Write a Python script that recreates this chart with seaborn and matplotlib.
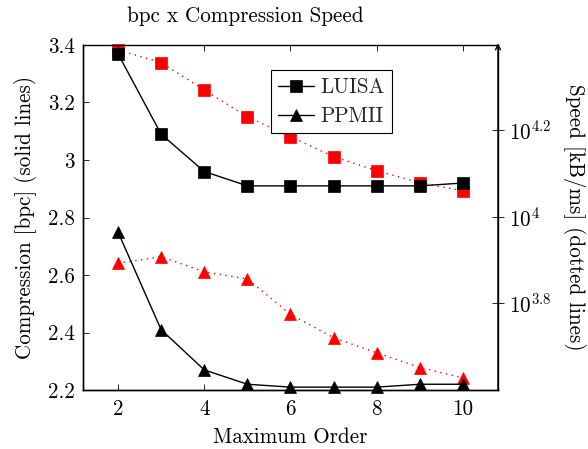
import numpy as np
import pandas as pd
import matplotlib
matplotlib.use("Agg")
import matplotlib.pyplot as plt
import seaborn as sns
from matplotlib.ticker import FixedLocator, FixedFormatter, NullLocator

# ---- data ----
orders = [2, 3, 4, 5, 6, 7, 8, 9, 10]
luisa_bpc = [3.37, 3.09, 2.96, 2.91, 2.91, 2.91, 2.91, 2.91, 2.92]
ppmii_bpc = [2.75, 2.41, 2.27, 2.22, 2.21, 2.21, 2.21, 2.22, 2.22]
luisa_speed = [24270, 22700, 19610, 17010, 15290, 13750, 12760, 11970, 11470]
ppmii_speed = [7794, 8072, 7453, 7171, 5941, 5244, 4842, 4477, 4236]

x_ticks = [2, 4, 6, 8, 10]
left_ticks = [2.2, 2.4, 2.6, 2.8, 3.0, 3.2, 3.4]
left_labels = ["2.2", "2.4", "2.6", "2.8", "3", "3.2", "3.4"]
right_ticks = [10**3.8, 10**4.0, 10**4.2]
right_labels = [r"$10^{3.8}$", r"$10^{4}$", r"$10^{4.2}$"]

title = "bpc x Compression Speed"
xlabel = "Maximum Order"
ylabel_left = "Compression [bpc] (solid lines)"
ylabel_right = "Speed [kB/ms] (dotted lines)"

# ---- style ----
sns.set_theme(style="ticks")
plt.rcParams["font.family"] = ["cmr10", "DejaVu Serif"]
plt.rcParams["mathtext.fontset"] = "cm"
plt.rcParams["axes.formatter.use_mathtext"] = True
plt.rcParams["axes.unicode_minus"] = False
FS = 15.2
DOT = (0, (1, 3.2))

fig = plt.figure(figsize=(5.88, 4.49), dpi=100)
ax = fig.add_axes([83/588, 1-390/449, (498-83)/588, (390-45)/449])
ax2 = ax.twinx()

df = pd.DataFrame({"order": orders, "luisa_bpc": luisa_bpc, "ppmii_bpc": ppmii_bpc,
                   "luisa_speed": luisa_speed, "ppmii_speed": ppmii_speed})

# speed (dotted red) on right log axis
sns.lineplot(data=df, x="order", y="luisa_speed", ax=ax2, color="red", linestyle=DOT,
             lw=1.0, marker="s", markersize=8, markeredgecolor="red", markeredgewidth=0.5,
             clip_on=False, zorder=2)
sns.lineplot(data=df, x="order", y="ppmii_speed", ax=ax2, color="red", linestyle=DOT,
             lw=1.0, marker="^", markersize=8, markeredgecolor="red", markeredgewidth=0.5,
             clip_on=False, zorder=2)

# compression (solid black) on left axis
sns.lineplot(data=df, x="order", y="luisa_bpc", ax=ax, color="black", lw=1.0,
             marker="s", markersize=8, markeredgecolor="black", markeredgewidth=0.5,
             label="LUISA", clip_on=False)
sns.lineplot(data=df, x="order", y="ppmii_bpc", ax=ax, color="black", lw=1.0,
             marker="^", markersize=8, markeredgecolor="black", markeredgewidth=0.5,
             label="PPMII", clip_on=False)

ax.set_zorder(ax2.get_zorder() + 1)
ax.patch.set_visible(False)

ax.set_xlim(1.19, 10.81)
ax.set_ylim(2.2, 3.4)
ax.xaxis.set_major_locator(FixedLocator(x_ticks))
ax.xaxis.set_major_formatter(FixedFormatter([str(t) for t in x_ticks]))
ax.yaxis.set_major_locator(FixedLocator(left_ticks))
ax.yaxis.set_major_formatter(FixedFormatter(left_labels))
ax.tick_params(axis="x", direction="in", top=True, bottom=True, length=4, width=0.6,
               labelsize=FS, colors="black", pad=7)
ax.tick_params(axis="y", direction="in", left=True, right=False, length=4, width=0.6,
               labelsize=FS, colors="black", pad=6)
ax.set_xlabel(xlabel, fontsize=FS, color="black", labelpad=6)
ax.set_ylabel(ylabel_left, fontsize=FS, color="black", labelpad=8)

ax2.set_yscale("log")
ax2.set_ylim(10**3.599, 10**4.3965)
ax2.yaxis.set_major_locator(FixedLocator(right_ticks))
ax2.yaxis.set_major_formatter(FixedFormatter(right_labels))
ax2.yaxis.set_minor_locator(NullLocator())
ax2.tick_params(axis="y", direction="inout", length=8, width=0.6, labelsize=FS,
                colors="black", pad=4)
ax2.set_ylabel(ylabel_right, fontsize=FS, color="black", rotation=-90, labelpad=25)

for a in (ax, ax2):
    for s in a.spines.values():
        s.set_linewidth(1.0)
        s.set_color("black")
ax2.spines["top"].set_visible(False)
ax2.spines["right"].set_visible(False)
ax2.annotate("", xy=(1, 1.005), xytext=(1, 0.0), xycoords="axes fraction",
             textcoords="axes fraction",
             arrowprops=dict(arrowstyle="->", lw=1.0, color="black", shrinkA=0, shrinkB=0,
                             mutation_scale=9))

leg = ax.legend(loc="upper left", bbox_to_anchor=(271/588, 1-70/449),
                bbox_transform=fig.transFigure, frameon=True, fancybox=False,
                fontsize=FS, handlelength=1.7, borderpad=0.35, labelspacing=0.45,
                handletextpad=0.3, borderaxespad=0)
leg.get_frame().set_edgecolor("black")
leg.get_frame().set_linewidth(0.8)
leg.get_frame().set_alpha(1)

fig.text(245/588, 1-16/449, title, ha="center", va="center", fontsize=FS, color="black")

fig.savefig("out.png", dpi=100)
